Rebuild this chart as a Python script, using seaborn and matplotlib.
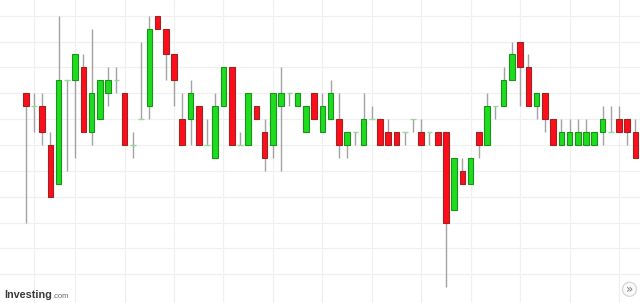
import numpy as np
import pandas as pd
import seaborn as sns
import matplotlib
matplotlib.use("Agg")
import matplotlib.pyplot as plt
from matplotlib.patches import Circle
from matplotlib.transforms import IdentityTransform

# ---- data (price in tick levels) ----
opens = [14, 13, 13, 10, 7, 15, 15, 16, 11, 12, 14, 15, 14, 10, 12, 13, 20, 19, 17, 12,
         12, 13, 10, 9, 13, 16, 10, 10, 13, 11, 10, 13, 14, 13, 11, 14, 11, 12, 12, 10,
         11, 10, 12, 12, 11, 11, 11, 12, 11, 11, 11, 11, 5, 8, 7, 11, 10, 13, 13, 15,
         18, 16, 13, 14, 12, 10, 10, 10, 10, 10, 11, 11, 12, 12, 11]
highs = [14, 14, 14, 11, 20, 15, 17, 17, 19, 15, 16, 16, 14, 11, 18, 20, 20, 19, 17, 14,
         15, 13, 12, 14, 16, 16, 11, 14, 13, 12, 14, 16, 14, 14, 13, 14, 14, 15, 14, 11,
         11, 14, 13, 12, 12, 11, 11, 12, 12, 11, 11, 11, 9, 9, 9, 11, 14, 13, 16, 18,
         18, 17, 14, 14, 12, 12, 12, 12, 12, 11, 13, 13, 13, 12, 12]
lows = [4, 11, 10, 6, 7, 8, 9, 11, 10, 12, 13, 14, 10, 9, 12, 12, 19, 15, 13, 10,
        10, 10, 10, 9, 13, 10, 10, 10, 12, 8, 9, 8, 13, 13, 11, 12, 11, 12, 9, 9,
        10, 10, 12, 10, 10, 10, 10, 11, 10, 10, 10, -1, 5, 7, 7, 9, 10, 12, 13, 15,
        13, 13, 12, 11, 10, 10, 10, 10, 10, 10, 10, 11, 11, 10, 9]
closes = [13, 13, 11, 6, 15, 15, 17, 11, 14, 15, 15, 15, 10, 10, 12, 19, 19, 17, 15, 10,
          14, 10, 10, 13, 16, 10, 10, 14, 12, 9, 14, 14, 14, 14, 13, 12, 13, 14, 10, 11,
          11, 12, 12, 10, 10, 10, 11, 12, 10, 11, 10, 4, 9, 7, 9, 10, 13, 13, 15, 17,
          16, 13, 14, 12, 10, 11, 11, 11, 11, 11, 12, 11, 11, 11, 9]
grid_levels = list(range(0, 22, 2))
time_grid = [1, 6, 12, 18, 24, 30, 36, 42, 48, 54, 60, 66, 72]

df = pd.DataFrame({"open": opens, "high": highs, "low": lows, "close": closes})
df["i"] = np.arange(len(df))

sns.set_theme(style="white")
fig = plt.figure(figsize=(6.4, 3.03), dpi=100)
ax = fig.add_axes([0, 0, 1, 1])
ax.set_facecolor("white")

GREEN, GREEN_E = "#1fdc1f", "#17951a"
RED, RED_E = "#ff0d1a", "#9b2424"
DOJI = "#93dc93"
WICK = "#a3a3a3"
W = 0.68

# grid
for g in grid_levels:
    ax.axhline(g, color="#f0f0f0", lw=0.9, zorder=0)
for t in time_grid:
    ax.axvline(t, color="#f0f0f0", lw=0.9, zorder=0)

# wicks
ax.vlines(df["i"], df["low"], df["high"], color=WICK, lw=1.0, zorder=1)

up = df[df["close"] > df["open"]]
dn = df[df["close"] < df["open"]]
dj = df[df["close"] == df["open"]]

ax.bar(up["i"], up["close"] - up["open"], bottom=up["open"], width=W,
       color=GREEN, edgecolor=GREEN_E, linewidth=0.8, zorder=2)
ax.bar(dn["i"], dn["open"] - dn["close"], bottom=dn["close"], width=W,
       color=RED, edgecolor=RED_E, linewidth=0.8, zorder=2)
ax.hlines(dj["open"], dj["i"] - W / 2, dj["i"] + W / 2, color=DOJI, lw=1.0, zorder=2)

ax.set_xlim(-3.12, 74.55)
ax.set_ylim(-2.22, 21.21)
ax.set_xticks([])
ax.set_yticks([])
for s in ax.spines.values():
    s.set_visible(False)

# logo
fig.text(4 / 640, 1 - 298.5 / 303, "Investing", fontsize=7.8, fontweight="bold",
         color="#3a3a3a", family=["Liberation Sans", "DejaVu Sans"], va="baseline")
fig.text(52 / 640, 1 - 298.5 / 303, ".com", fontsize=5.4,
         color="#666666", family=["Liberation Sans", "DejaVu Sans"], va="baseline")

# button
circ = Circle((629.5, 303 - 289.3), 7, transform=IdentityTransform(),
              facecolor="#fafafa", edgecolor="#d8d8d8", lw=1.0)
fig.add_artist(circ)
fig.text(629.6 / 640, 1 - 289.8 / 303, "»", fontsize=8.5, color="#7a7a7a",
         ha="center", va="center")

fig.savefig("out.png", dpi=100)
